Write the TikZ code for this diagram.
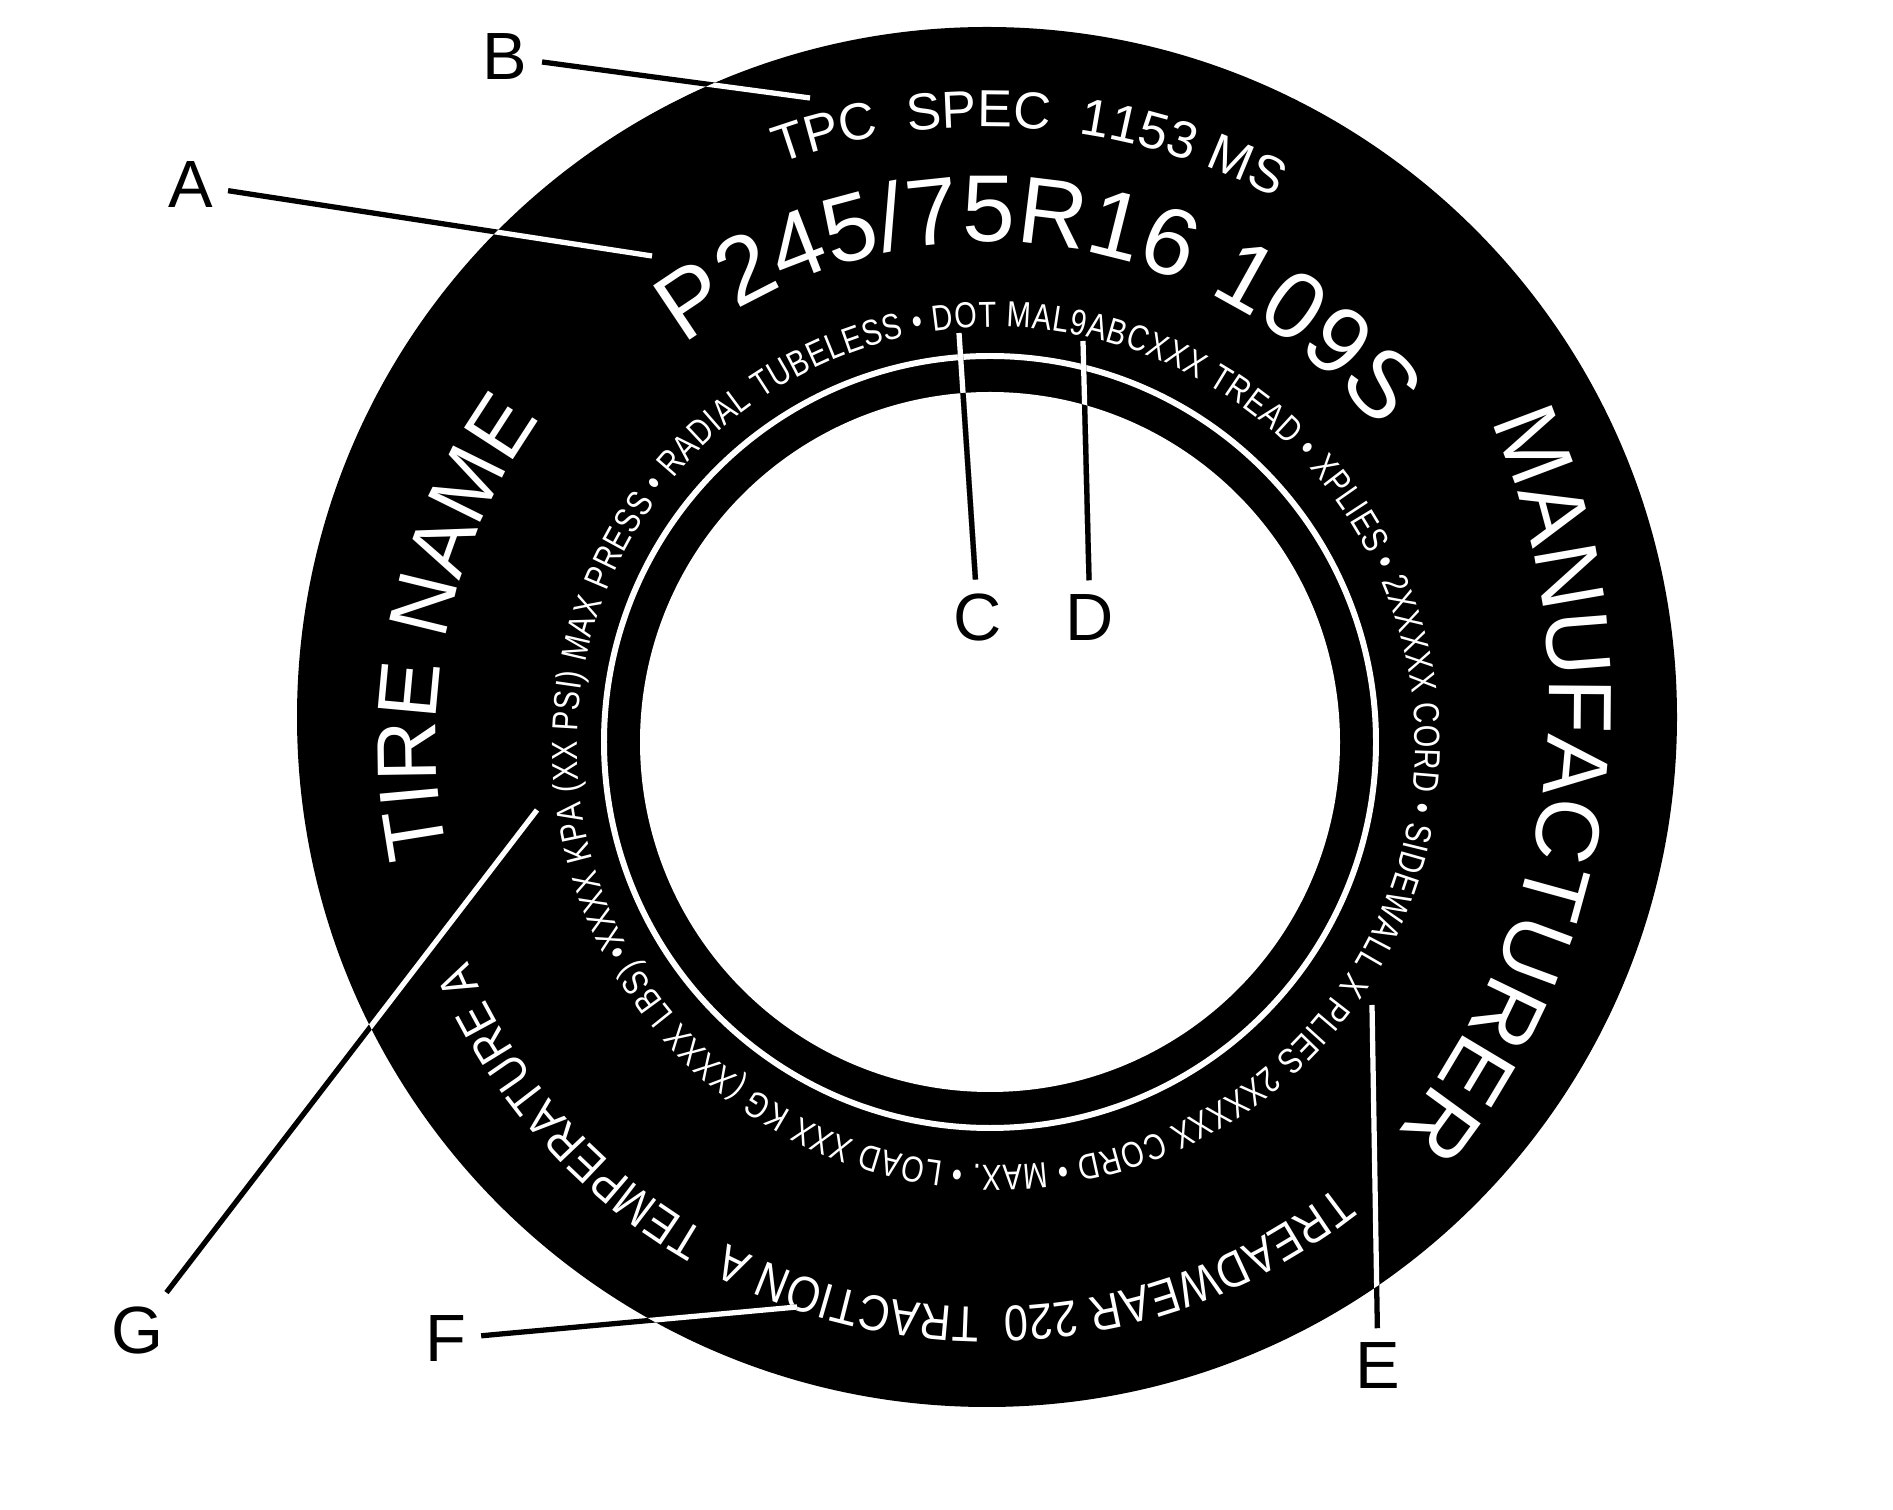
\documentclass[tikz,border=0pt]{standalone}
\usepackage{fontspec}
\setmainfont{Liberation Sans}
\newfontfamily\narrowsans[FakeStretch=0.8]{Liberation Sans}
\newfontfamily\slimsans[FakeStretch=0.86]{Liberation Sans}
\usetikzlibrary{decorations.text}

\begin{document}
\begin{tikzpicture}[
  x=0.01cm, y=0.01cm,
  lbl/.style = {font=\fontsize{19}{19}\selectfont, inner sep=4pt},
  ldr/.style = {line width=1.5pt},
  rim/.style = {decorate, decoration={text along path, text color=white,
                text align=center, #1}},
]

\useasboundingbox (0,0) rectangle (1893,-1510);
\fill[white] (0,0) rectangle (1893,-1510);

\coordinate (tire) at (987,-717);
\coordinate (hub)  at (988,-742);
\coordinate (bead) at (990,-742);
\coordinate (ring) at (996,-746);
\coordinate (mfr)  at (857,-700);

% tyre and rim
\fill (tire) circle[radius=690];
\fill[white] (bead) circle[radius=350];
\draw[white, line width=1.7pt] (bead) circle[radius=386];

% sidewall lettering
\path[rim={text={|\fontsize{14.8}{15}\selectfont|TPC {\ }SPEC {\ }1153 MS}}]
  ([shift={(130:615)}]hub) arc[start angle=130, end angle=42, radius=615];
\path[rim={text={|\fontsize{27}{28}\selectfont|P245/75R16 109S}}]
  ([shift={(150:500)}]hub) arc[start angle=150, end angle=16, radius=500];
\path[rim={text={|\fontsize{24}{25}\selectfont|TIRE NAME}}]
  ([shift={(213:552)}]hub) arc[start angle=213, end angle=123, radius=552];
\path[rim={text={|\fontsize{25.6}{26}\selectfont|MANUFACTURER}}]
  ([shift={(40:692)}]mfr) arc[start angle=40, end angle=-55, radius=692];
\path[rim={text={|\slimsans\fontsize{14.3}{15}\selectfont|TREADWEAR 220 {\ }TRACTION A {\ }TEMPERATURE A}}]
  ([shift={(-40:565)}]hub) arc[start angle=-40, end angle=-169, radius=565];
\path[decorate, decoration={text along path, text color=white,
      text align=fit to path,
      text={|\narrowsans\fontsize{10.3}{11}\selectfont|XXXX KPA (XX PSI) MAX PRESS • RADIAL TUBELESS • DOT MAL9ABCXXX TREAD • XPLIES • 2XXXXX CORD • SIDEWALL X PLIES 2XXXXX CORD • MAX. • LOAD XXX KG (XXXX LBS) • }}]
  ([shift={(208:419)}]ring) arc[start angle=208, end angle=-152, radius=419];

% callouts
\node[lbl] (labA) at (191,-185)  {A};
\node[lbl] (labB) at (505,-57)   {B};
\node[lbl] (labC) at (978,-618)  {C};
\node[lbl] (labD) at (1090,-618) {D};
\node[lbl] (labE) at (1378,-1366) {E};
\node[lbl] (labF) at (446,-1339) {F};
\node[lbl] (labG) at (137,-1331) {G};

\coordinate (tipA) at (652,-256);
\coordinate (tipB) at (810,-98);
\coordinate (tipC) at (959,-333);
\coordinate (tipD) at (1083,-341);
\coordinate (tipE) at (1372,-1005);
\coordinate (tipF) at (797,-1307);
\coordinate (tipG) at (537,-810);

\foreach \k in {A,...,G}
  \draw[ldr] (lab\k) -- (tip\k);
\begin{scope}
  \clip (tire) circle[radius=690];
  \foreach \k in {A,...,G}
    \draw[ldr, white] (lab\k) -- (tip\k);
\end{scope}
\begin{scope}
  \clip (bead) circle[radius=350];
  \foreach \k in {C,D}
    \draw[ldr] (lab\k) -- (tip\k);
\end{scope}

\end{tikzpicture}
\end{document}
